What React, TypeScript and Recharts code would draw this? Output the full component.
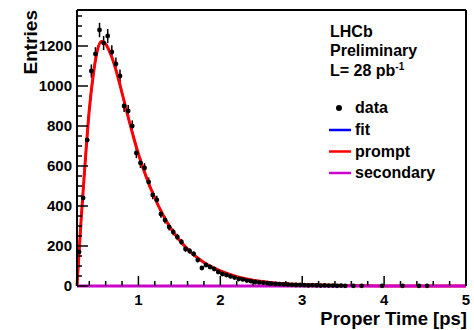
import { ComposedChart, Line, Scatter, ErrorBar, XAxis, YAxis } from 'recharts'

const FONT = '"Liberation Sans", Arial, Helvetica, sans-serif'

// binned data (proper time in ps, entries per bin, stat. error)
const binCenters = [
  0.275, 0.325, 0.375, 0.425, 0.475, 0.525, 0.575, 0.625, 0.675, 0.725,
  0.775, 0.825, 0.875, 0.925, 0.975, 1.025, 1.075, 1.125, 1.175, 1.225,
  1.275, 1.325, 1.375, 1.425, 1.475, 1.525, 1.575, 1.625, 1.675, 1.725,
  1.775, 1.825, 1.875, 1.925, 1.975, 2.025, 2.075, 2.125, 2.175, 2.225,
  2.275, 2.325, 2.375, 2.425, 2.475, 2.525, 2.575, 2.625, 2.675, 2.725,
  2.775, 2.825, 2.875, 2.925, 2.975, 3.025, 3.075, 3.125, 3.175, 3.225,
  3.275, 3.325, 3.375, 3.425, 3.475, 3.525, 3.625, 3.725, 3.975, 4.225,
  4.425, 4.525,
]
const entries = [
  170, 440, 730, 1075, 1160, 1280, 1215, 1250, 1170, 1110,
  1050, 900, 875, 800, 665, 615, 590, 520, 455, 430,
  360, 330, 295, 270, 245, 220, 185, 175, 160, 130,
  90, 105, 95, 85, 70, 60, 55, 48, 42, 35,
  33, 27, 24, 20, 18, 16, 14, 12, 10, 9,
  8, 7, 6, 5, 5, 4, 3, 4, 3, 2,
  3, 2, 2, 1, 2, 1, 1, 1, 1, 1,
  1, 1,
]
const errors = [
  13, 21, 27, 33, 34, 36, 35, 35, 34, 33,
  32, 30, 30, 28, 26, 25, 24, 23, 21, 21,
  19, 18, 17, 16, 16, 15, 14, 13, 13, 11,
  9, 10, 10, 9, 8, 8, 7, 7, 6, 6,
  6, 5, 5, 4, 4, 4, 4, 3, 3, 3,
  3, 3, 2, 2, 2, 2, 2, 2, 2, 1,
  2, 1, 1, 1, 1, 1, 1, 1, 1, 1,
  1, 1,
]

// fitted curves, sampled
const curveT = [
  0.25, 0.3, 0.35, 0.4, 0.45, 0.5, 0.55, 0.6, 0.65, 0.7,
  0.75, 0.8, 0.85, 0.9, 0.95, 1.0, 1.1, 1.2, 1.3, 1.4,
  1.5, 1.6, 1.7, 1.8, 1.9, 2.0, 2.2, 2.4, 2.6, 2.8,
  3.0, 3.5, 4.0, 5.0,
]
const promptVals = [
  0, 330, 620, 880, 1060, 1180, 1222, 1210, 1170, 1115,
  1045, 965, 885, 805, 730, 660, 540, 440, 355, 285,
  230, 185, 148, 118, 94, 75, 47, 29, 18, 11,
  7, 2, 0.5, 0,
]
const secondaryVals = [
  0, 0, 0, 0, 0, 0, 0, 0, 0, 0,
  0, 0, 0, 0, 0, 0, 0, 0, 0, 0,
  0, 0, 0, 0, 0, 0, 0, 0, 0, 0,
  0, 0, 0, 0,
]

const xTicks = [
  0.4, 0.6, 0.8, 1, 1.2, 1.4, 1.6, 1.8, 2, 2.2, 2.4, 2.6, 2.8, 3,
  3.2, 3.4, 3.6, 3.8, 4, 4.2, 4.4, 4.6, 4.8, 5,
]
const yTicks = [
  0, 50, 100, 150, 200, 250, 300, 350, 400, 450, 500, 550, 600, 650, 700,
  750, 800, 850, 900, 950, 1000, 1050, 1100, 1150, 1200, 1250, 1300, 1350,
]

const points = binCenters.map((t, i) => ({ t, v: entries[i], err: errors[i] }))
const prompt = curveT.map((t, i) => ({ t, v: promptVals[i] }))
const secondary = curveT.map((t, i) => ({ t, v: secondaryVals[i] }))
const fit = curveT.map((t, i) => ({ t, v: promptVals[i] + secondaryVals[i] }))

const isMajorX = (v: number) => Math.abs(v - Math.round(v)) < 1e-6
const isMajorY = (v: number) => v % 200 === 0

function LeftTick({ x, y, payload }: any) {
  const major = isMajorY(payload.value)
  return (
    <g>
      <line x1={x} x2={x + (major ? 11 : 5)} y1={y} y2={y} stroke="#000" strokeWidth={1.5} />
      {major && (
        <text x={x - 5} y={y} dy="0.36em" textAnchor="end" fontFamily={FONT} fontWeight="bold" fontSize={15} fill="#000">
          {payload.value}
        </text>
      )}
    </g>
  )
}

function RightTick({ x, y, payload }: any) {
  const major = isMajorY(payload.value)
  return <line x1={x} x2={x - (major ? 8 : 4)} y1={y} y2={y} stroke="#000" strokeWidth={1.5} />
}

function BottomTick({ x, y, payload }: any) {
  const major = isMajorX(payload.value)
  return (
    <g>
      <line x1={x} x2={x} y1={y} y2={y - (major ? 10 : 5)} stroke="#000" strokeWidth={1.5} />
      {major && (
        <text x={x} y={y + 19} textAnchor="middle" fontFamily={FONT} fontWeight="bold" fontSize={15} fill="#000">
          {Math.round(payload.value)}
        </text>
      )}
    </g>
  )
}

function TopTick({ x, y, payload }: any) {
  const major = isMajorX(payload.value)
  return <line x1={x} x2={x} y1={y} y2={y + (major ? 8 : 4)} stroke="#000" strokeWidth={1.5} />
}

function XTitle({ viewBox }: any) {
  return (
    <text x={viewBox.x + viewBox.width + 1} y={viewBox.y + 39} textAnchor="end" fontFamily={FONT} fontWeight="bold" fontSize={18.5} fill="#000">
      Proper Time [ps]
    </text>
  )
}

function YTitle({ viewBox }: any) {
  return (
    <text transform={`translate(${viewBox.x + 37}, ${viewBox.y}) rotate(-90)`} textAnchor="end" fontFamily={FONT} fontWeight="bold" fontSize={19} fill="#000">
      Entries
    </text>
  )
}

const legendItems = [
  { label: 'fit', color: '#0000ff' },
  { label: 'prompt', color: '#ff0000' },
  { label: 'secondary', color: '#cc00cc' },
]

export default function App() {
  const axisLine = { stroke: '#000', strokeWidth: 2 }
  return (
    <div style={{ position: 'absolute', left: 0, top: 0, width: 474, height: 330, background: '#fff' }}>
      <ComposedChart width={474} height={330} margin={{ top: 0, right: 0, bottom: 0, left: 0 }}>
        <XAxis
          dataKey="t"
          type="number"
          domain={[0.25, 5]}
          ticks={xTicks}
          interval={0}
          height={44}
          tickSize={0}
          tickMargin={0}
          tickLine={false}
          axisLine={false}
          tick={<BottomTick />}
          label={<XTitle />}
        />
        <XAxis
          xAxisId="top"
          orientation="top"
          dataKey="t"
          type="number"
          domain={[0.25, 5]}
          ticks={xTicks}
          interval={0}
          height={10}
          tickSize={0}
          tickMargin={0}
          tickLine={false}
          axisLine={axisLine}
          tick={<TopTick />}
        />
        <YAxis
          type="number"
          domain={[0, 1380]}
          ticks={yTicks}
          interval={0}
          width={77}
          tickSize={0}
          tickMargin={0}
          tickLine={false}
          axisLine={axisLine}
          tick={<LeftTick />}
          label={<YTitle />}
        />
        <YAxis
          yAxisId="right"
          orientation="right"
          type="number"
          domain={[0, 1380]}
          ticks={yTicks}
          interval={0}
          width={8}
          tickSize={0}
          tickMargin={0}
          tickLine={false}
          axisLine={axisLine}
          tick={<RightTick />}
        />
        <Scatter
          data={points}
          dataKey="v"
          isAnimationActive={false}
          shape={(p: any) => <circle cx={p.cx} cy={p.cy} r={2.4} fill="#000" />}
        >
          <ErrorBar dataKey="err" direction="y" width={0} stroke="#000" strokeWidth={1.5} />
        </Scatter>
        <Line data={fit} dataKey="v" type="monotone" stroke="#0000ff" strokeWidth={2} dot={false} isAnimationActive={false} />
        <Line data={prompt} dataKey="v" type="monotone" stroke="#ff0000" strokeWidth={3} dot={false} isAnimationActive={false} />
        <Line data={secondary} dataKey="v" type="linear" stroke="#cc00cc" strokeWidth={3} dot={false} isAnimationActive={false} />
      </ComposedChart>
      <svg width={474} height={330} style={{ position: 'absolute', left: 0, top: 0, pointerEvents: 'none' }}>
        <g fontFamily={FONT} fontWeight="bold" fontSize={16} fill="#000">
          <text x={330} y={37}>LHCb</text>
          <text x={330} y={56}>Preliminary</text>
          <text x={330} y={76}>
            L= 28 pb<tspan dy={-6} fontSize={10}>-1</tspan>
          </text>
          <circle cx={339} cy={108} r={3} fill="#000" />
          <text x={355} y={113}>data</text>
          {legendItems.map((item, i) => (
            <g key={item.label}>
              <line x1={329} x2={351} y1={130 + i * 21.5} y2={130 + i * 21.5} stroke={item.color} strokeWidth={2.5} />
              <text x={355} y={135 + i * 21.5}>{item.label}</text>
            </g>
          ))}
        </g>
      </svg>
    </div>
  )
}
